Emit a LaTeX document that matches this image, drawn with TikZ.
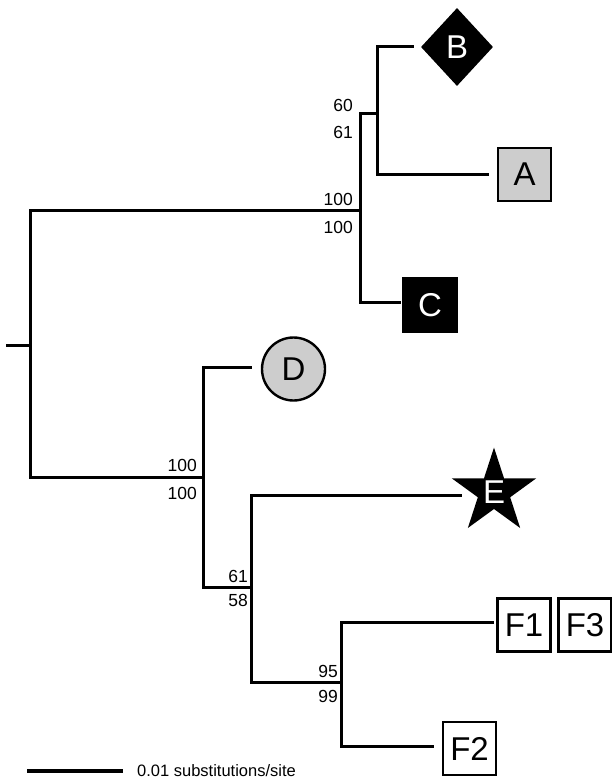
\documentclass[tikz,border=0pt]{standalone}
\usepackage{fontspec}
\setmainfont{Liberation Sans}
\usetikzlibrary{shapes.geometric}
\definecolor{tipgray}{RGB}{205,205,205}
\begin{document}
\begin{tikzpicture}[x=1pt,y=-1pt,
  branch/.style={line width=3pt,line cap=rect,line join=miter},
  support/.style={anchor=east,inner sep=0pt,font=\fontsize{17.5}{17.5}\selectfont},
  tipfont/.style={font=\fontsize{33}{33}\selectfont},
  tipbox/.style={tipfont,draw=black,line width=2.4pt,minimum size=53pt,inner sep=0pt},
  darkbox/.style={tipbox,fill=black,text=white},
  lightbox/.style={tipbox,fill=tipgray},
  openbox/.style={tipbox,fill=white}]
\useasboundingbox (0,0) rectangle (612,781);
% internal coordinates
\coordinate (rootL) at (7,345);
\coordinate (n0) at (30,345);
\coordinate (n0t) at (30,210);
\coordinate (n0b) at (30,477);
\coordinate (n1) at (360,210);
\coordinate (n1t) at (360,114);
\coordinate (n1b) at (360,302);
\coordinate (nAB) at (377,114);
\coordinate (nABt) at (377,47);
\coordinate (nABb) at (377,174);
\coordinate (n2) at (203,477);
\coordinate (n2t) at (203,367);
\coordinate (n2b) at (203,587);
\coordinate (nE) at (251,587);
\coordinate (nEt) at (251,495);
\coordinate (nEb) at (251,682);
\coordinate (nF) at (341,682);
\coordinate (nFt) at (341,622);
\coordinate (nFb) at (341,746);
% tips
\node[diamond,tipfont,fill=black,text=white,minimum width=72pt,minimum height=78pt,inner sep=0pt] (B) at (457,47) {B};
\node[lightbox] (A) at (524.5,174.5) {A};
\node[darkbox] (C) at (430,305) {C};
\node[circle,tipfont,draw=black,line width=2.4pt,fill=tipgray,minimum size=63pt,inner sep=0pt] (D) at (293.5,369) {D};
\node[openbox] (F1) at (524,625) {F1};
\node[openbox] (F3) at (585,625) {F3};
\node[openbox] (F2) at (469.5,748.5) {F2};
% branches
\draw[branch] (rootL) -- (n0);
\draw[branch] (n0t) -- (n0b);
\draw[branch] (n0t) -- (n1);
\draw[branch] (n0b) -- (n2);
\draw[branch] (n1t) -- (n1b);
\draw[branch] (n1t) -- (nAB);
\draw[branch] (nABt) -- (nABb);
\draw[branch,shorten >=8pt] (nABt) -- (B.west);
\draw[branch,shorten >=9pt] (nABb) -- (A.west |- nABb);
\draw[branch,shorten >=3pt] (n1b) -- (C.west |- n1b);
\draw[branch] (n2t) -- (n2b);
\draw[branch,shorten >=10pt] (n2t) -- (D.west |- n2t);
\draw[branch] (n2b) -- (nE);
\draw[branch] (nEt) -- (nEb);
\draw[branch] (nEb) -- (nF);
\draw[branch] (nFt) -- (nFb);
\draw[branch,shorten >=4pt] (nFt) -- (F1.west |- nFt);
\draw[branch,shorten >=9pt] (nFb) -- (F2.west |- nFb);
\coordinate (Eend) at (460,495);
\draw[branch] (nEt) -- (Eend);
\node[star,tipfont,star points=5,star point ratio=2.618,fill=black,text=white,minimum size=89pt,inner sep=0pt] (E) at (494,492) {E};
% support values
\node[support] (s1a) at (353,105) {60};
\node[support] (s1b) at (353,132) {61};
\node[support] (s2a) at (353,199) {100};
\node[support] (s2b) at (353,227) {100};
\node[support] (s3a) at (197,465) {100};
\node[support] (s3b) at (197,493) {100};
\node[support] (s4a) at (248,576) {61};
\node[support] (s4b) at (248,600) {58};
\node[support] (s5a) at (338,671) {95};
\node[support] (s5b) at (338,696) {99};
% scale bar
\coordinate (sbL) at (27,771);
\coordinate (sbR) at (123,771);
\draw[line width=3.8pt] (sbL) -- (sbR);
\node[anchor=west,inner sep=0pt,font=\fontsize{16.5}{16.5}\selectfont] (sbT) at (137,771) {0.01 substitutions/site};
\end{tikzpicture}
\end{document}
